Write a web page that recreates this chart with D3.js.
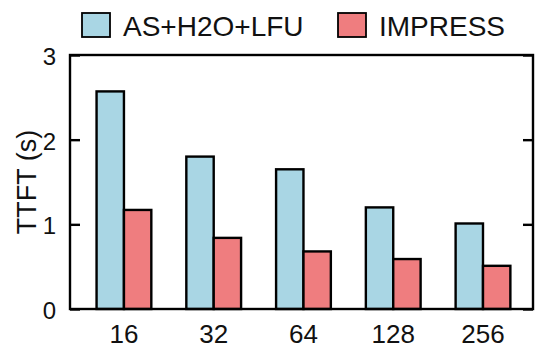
<!DOCTYPE html>
<html>
<head>
<meta charset="utf-8">
<script src="https://cdn.jsdelivr.net/npm/d3@7"></script>
<style>
  body { margin: 0; background: #fff; }
  text { font-family: "Liberation Sans", Arial, Helvetica, sans-serif; fill: #111; }
</style>
</head>
<body>
<script>
// data
const categories = ["16", "32", "64", "128", "256"];
const seriesNames = ["AS+H2O+LFU", "IMPRESS"];
const baseline = [2.57, 1.80, 1.65, 1.20, 1.01];
const impress = [1.17, 0.84, 0.68, 0.59, 0.51];
const yTicks = [0, 1, 2, 3];
const colors = ["#a9d6e4", "#ef7d7f"];

const width = 535, height = 350;
const margin = { left: 70, right: 2, top: 55, bottom: 41 };
const plotW = width - margin.left - margin.right;
const plotH = height - margin.top - margin.bottom;

const svg = d3.select("body").append("svg")
  .attr("width", width)
  .attr("height", height);

const g = svg.append("g")
  .attr("transform", `translate(${margin.left},${margin.top})`);

const x0 = d3.scaleBand().domain(categories).range([0, plotW])
  .paddingInner(0.39).paddingOuter(0.274).align(0.54);
const x1 = d3.scaleBand().domain(seriesNames).range([0, x0.bandwidth()]).padding(0);
const y = d3.scaleLinear().domain([0, 3]).range([plotH, 0]);

const rows = categories.map((c, i) => ({ cat: c, values: [baseline[i], impress[i]] }));

// bars
const groups = g.selectAll("g.grp")
  .data(rows)
  .enter().append("g")
  .attr("class", "grp")
  .attr("transform", d => `translate(${x0(d.cat)},0)`);

groups.selectAll("rect")
  .data(d => d.values.map((v, j) => ({ name: seriesNames[j], v, j })))
  .enter().append("rect")
  .attr("x", d => x1(d.name))
  .attr("y", d => y(d.v))
  .attr("width", x1.bandwidth())
  .attr("height", d => plotH - y(d.v))
  .attr("fill", d => colors[d.j])
  .attr("stroke", "#000")
  .attr("stroke-width", 2.4);

// frame
g.append("rect")
  .attr("width", plotW)
  .attr("height", plotH)
  .attr("fill", "none")
  .attr("stroke", "#000")
  .attr("stroke-width", 2.4);

// left axis, ticks pointing inward
const yLeft = g.append("g")
  .call(d3.axisLeft(y).tickValues(yTicks).tickSize(-10).tickPadding(14).tickFormat(d3.format("d")));
yLeft.select(".domain").remove();
yLeft.selectAll("line").attr("stroke", "#000").attr("stroke-width", 2.4);
yLeft.selectAll("text").attr("font-size", 24).attr("dy", "0.4em");

// right axis ticks, inward
const yRight = g.append("g")
  .attr("transform", `translate(${plotW},0)`)
  .call(d3.axisRight(y).tickValues(yTicks).tickSize(-10).tickFormat(""));
yRight.select(".domain").remove();
yRight.selectAll("line").attr("stroke", "#000").attr("stroke-width", 2.4);

// x labels
const xAxis = g.append("g")
  .attr("transform", `translate(0,${plotH})`)
  .call(d3.axisBottom(x0).tickSize(0).tickPadding(16));
xAxis.select(".domain").remove();
xAxis.selectAll("text").attr("font-size", 26).attr("dy", "0.71em");

// y title
svg.append("text")
  .attr("transform", `translate(36,${margin.top + plotH / 2}) rotate(-90)`)
  .attr("text-anchor", "middle")
  .attr("font-size", 27)
  .text("TTFT (s)");

// legend
const legendX = [82, 338];
const legend = svg.append("g");
seriesNames.forEach((name, i) => {
  legend.append("rect")
    .attr("x", legendX[i])
    .attr("y", 13)
    .attr("width", 28)
    .attr("height", 24)
    .attr("fill", colors[i])
    .attr("stroke", "#000")
    .attr("stroke-width", 1.8);
  legend.append("text")
    .attr("x", legendX[i] + 41)
    .attr("y", 36)
    .attr("font-size", 28)
    .text(name);
});
</script>
</body>
</html>
